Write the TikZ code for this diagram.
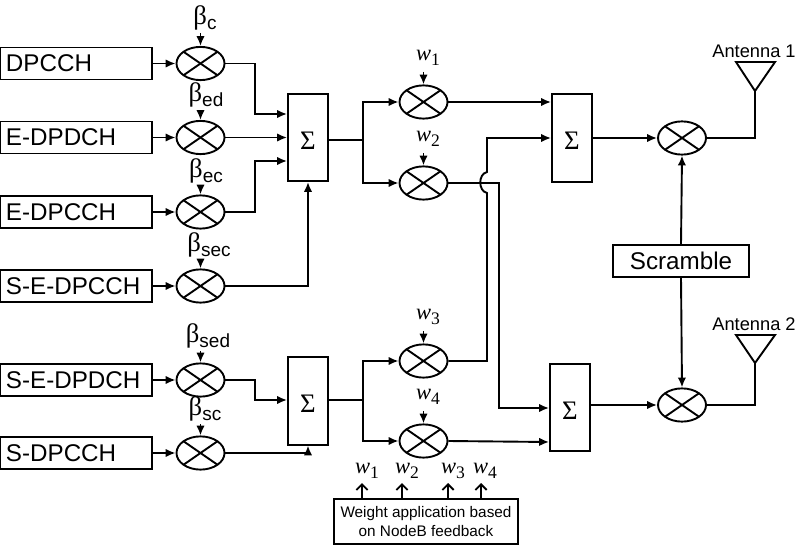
\documentclass[tikz,border=0pt]{standalone}
\usepackage{fontspec}
\usepackage{amsmath, amssymb}
\setmainfont{Liberation Sans}
\newfontfamily\serfont{Liberation Serif}
\usetikzlibrary{shapes.geometric, arrows.meta}

\newcommand{\betalab}[1]{{\serfont\fontsize{19}{19}\selectfont β}\raisebox{-3.5pt}{\fontsize{13.5}{13.5}\selectfont #1}}
\newcommand{\wlab}[1]{{\serfont\fontsize{16}{16}\selectfont\itshape w}\raisebox{-4pt}{\serfont\fontsize{12.5}{12.5}\selectfont #1}}

\tikzset{
    wire/.style={line width=1.35pt, line join=miter},
    feed/.style={wire, -{Latex[length=7pt, width=6pt]}},
    chanbox/.style={draw, line width=1.35pt, minimum width=3.8cm, minimum height=0.8cm,
        inner xsep=0.15cm, text width=3.5cm, align=left, inner ysep=0pt,
        font=\fontsize{17.2}{17.2}\selectfont},
    mixer/.style={ellipse, draw, line width=1.35pt, minimum width=1.2cm, minimum height=0.83cm, inner sep=0pt,
        path picture={
            \draw[line width=1.35pt] (path picture bounding box.north west) -- (path picture bounding box.south east);
            \draw[line width=1.35pt] (path picture bounding box.north east) -- (path picture bounding box.south west);
        }},
    sumbox/.style={draw, line width=1.35pt, minimum width=1cm, minimum height=2.18cm, inner sep=0pt,
        text height=17pt, text depth=0pt, font=\serfont\fontsize{19}{19}\selectfont},
    tag/.style={inner sep=0pt},
}

\begin{document}
\begin{tikzpicture}[x=0.025cm, y=-0.025cm]
    \useasboundingbox (0,0) rectangle (800,545);

    % channel boxes with their gain mixers
    \foreach \name/\lab/\yy in {1/DPCCH/63.5, 2/E-DPDCH/137.5, 3/E-DPCCH/212,
                                4/S-E-DPCCH/286, 5/S-E-DPDCH/380, 6/S-DPCCH/453}{
        \node[chanbox] (ch\name) at (76,\yy) {\lab};
        \node[mixer] (g\name) at (200.5,\yy) {};
        \draw[feed] (ch\name.east) -- (g\name.west);
    }

    % gain labels
    \foreach \name/\lab/\xx/\yy in {1/c/205/18, 2/ed/206/95, 3/ec/206/171,
                                    4/sec/209/245, 5/sed/208/336, 6/sc/205/409}{
        \node[tag] (b\name) at (\xx,\yy) {\betalab{\lab}};
        \coordinate (bt\name) at (200.5,\yy+15);
        \draw[feed] (bt\name) -- (g\name.north);
    }

    % adders
    \node[sumbox] (s1) at (308,137.5) {Σ};
    \node[sumbox] (s2) at (308,401) {Σ};
    \node[sumbox] (s3) at (572,138) {Σ};
    \node[sumbox] (s4) at (570,407.5) {Σ};

    % weight mixers
    \foreach \name/\yy in {1/102, 2/183, 3/361, 4/441}{
        \node[mixer] (w\name) at (423.5,\yy) {};
        \node[tag] (wl\name) at (428,\yy-44) {\wlab{\name}};
        \coordinate (wt\name) at (423.5,\yy-30);
        \draw[feed] (wt\name) -- (w\name.north);
    }

    % output mixers, scrambling code and antennas
    \node[mixer] (m1) at (682,138) {};
    \node[mixer] (m2) at (682,405) {};
    \node[draw, line width=1.35pt, minimum width=3.4cm, minimum height=0.8cm, inner sep=0pt,
        font=\fontsize{17.2}{17.2}\selectfont] (scr) at (681,261) {Scramble};

    \coordinate (tip1) at (755,91);
    \coordinate (tip2) at (755,363);
    \foreach \i/\yy in {1/62, 2/335}{
        \draw[wire, line join=miter] (736,\yy) -- (775,\yy) -- (tip\i) -- cycle;
        \node[tag, font=\fontsize{13}{13}\selectfont] (ant\i) at (754,\yy-11) {Antenna \i};
    }

    % gain mixers into the adders
    \coordinate (s1a) at (s1.west |- 0,114);
    \coordinate (s1c) at (s1.west |- 0,161);
    \coordinate (s2a) at (s2.west |- 0,400);
    \draw[feed]
        (g1.east) -| (255,114) -- (s1a);
    \draw[feed]
        (g2.east) -- (g2.east -| s1.west);
    \draw[feed]
        (g3.east) -| (255,161) -- (s1c);
    \draw[feed]
        (g4.east) -| (s1.south);
    \draw[feed]
        (g5.east) -| (255,400) -- (s2a);
    \draw[feed]
        (g6.east) -| (s2.south);

    % adders into the weight mixers
    \coordinate (j1) at (363,140);
    \coordinate (j2) at (363,400);
    \draw[wire] (s1.east |- j1) -- (j1);
    \draw[wire] (s2.east |- j2) -- (j2);
    \draw[feed] (j1) |- (w1.west);
    \draw[feed] (j1) |- (w2.west);
    \draw[feed] (j2) |- (w3.west);
    \draw[feed] (j2) |- (w4.west);

    % cross-over to the second antenna branch
    \coordinate (hopb) at (487,193);
    \coordinate (hopa) at (487,172);
    \coordinate (s3b) at (s3.west |- 0,138);
    \coordinate (s4a) at (s4.west |- 0,408);
    \coordinate (s4b) at (s4.west |- 0,442);
    \draw[feed]
        (w1.east) -- (w1.east -| s3.west);
    \draw[feed]
        (w3.east) -| (hopb) .. controls (478,191) and (478,174) .. (hopa) |- (s3b);
    \draw[feed]
        (w2.east) -| (499,408) -- (s4a);
    \draw[feed]
        (w4.east) -- (s4b);

    % adders to the output mixers and on to the antennas
    \draw[feed] (s3.east |- m1) -- (m1.west);
    \draw[feed] (s4.east |- m2) -- (m2.west);
    \draw[wire] (m1.east) -| (tip1);
    \draw[wire] (m2.east) -| (tip2);
    \draw[feed] (scr.north) -- (m1.south);
    \draw[feed] (scr.south) -- (m2.north);

    % weight feedback
    \node[draw, line width=1.35pt, minimum width=4.6cm, minimum height=1.12cm, inner sep=0pt, align=center,
        font=\fontsize{10.9}{13.5}\selectfont] (fb) at (426,521.5) {Weight application based\\on NodeB feedback};
    \foreach \name/\xx/\lx in {1/362/367, 2/402/407, 3/448/453, 4/481/485}{
        \coordinate (fbt\name) at (\xx,483);
        \draw[wire, -{Straight Barb[length=4pt, width=8pt]}] (fbt\name |- fb.north) -- (fbt\name);
        \node[tag] (fw\name) at (\lx,471) {\wlab{\name}};
    }
\end{tikzpicture}
\end{document}
